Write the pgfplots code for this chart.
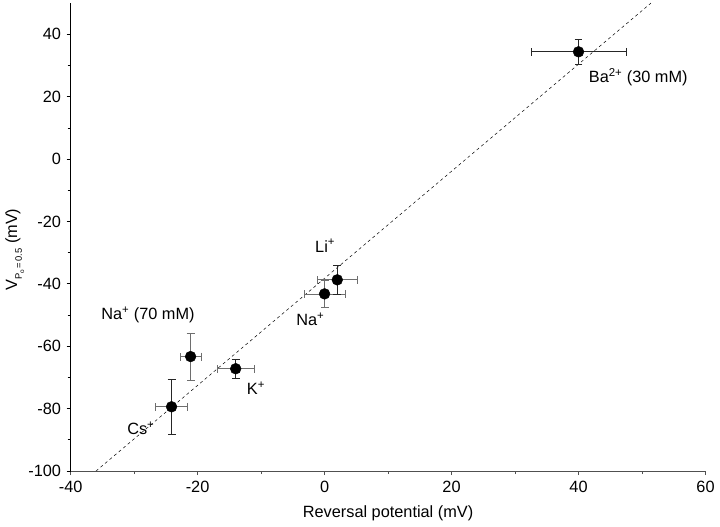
\documentclass[border=0pt]{standalone}
\usepackage{pgfplots}
\pgfplotsset{compat=1.18}
\usepackage{fontspec}
\setmainfont{Liberation Sans}
\definecolor{ebgray}{RGB}{110,110,110}
\definecolor{axgray}{RGB}{80,80,80}
\begin{document}
\fontsize{16.5}{19}\selectfont
\begin{tikzpicture}
\begin{axis}[
  name=main,
  scale only axis,
  width=642.5pt, height=473.5pt,
  xmin=-40, xmax=60, ymin=-100, ymax=50,
  axis x line*=bottom, axis y line*=left,
  x axis line style={-, line width=1pt, axgray},
  y axis line style={-, line width=1.2pt, black},
  xtick={-40,-20,0,20,40,60},
  ytick={-100,-80,-60,-40,-20,0,20,40},
  minor tick num=1,
  tick align=outside,
  major tick length=4pt, minor tick length=3pt,
  xtick style={axgray, line width=0.8pt},
  ytick style={black, line width=0.8pt},
  /pgf/number format/assume math mode=true,
  ticklabel style={font=\fontsize{16.5}{19}\selectfont},
  label style={font=\fontsize{16.5}{19}\selectfont},
  xlabel={Reversal potential (mV)},
  ylabel={V\raisebox{-0.55ex}{\fontsize{9.5}{10}\selectfont P\raisebox{-0.45ex}{\fontsize{6.5}{7}\selectfont o}\,=\,0.5} (mV)},
  xlabel style={at={(axis description cs:0.5,0)}, anchor=base, yshift=-47pt},
  ylabel style={at={(axis description cs:0,0.473)}, anchor=base, yshift=54pt},
  clip=false,
]
% regression line
\addplot[black, dashed, line width=0.5pt] coordinates {(-36,-100) (51.4,50)};
% horizontal error bars (gray)
\addplot[only marks, mark=none, draw=none,
  error bars/.cd, x dir=both, x explicit,
  error bar style={ebgray, line width=0.7pt}, error mark options={rotate=90, mark size=4pt, ebgray, line width=0.7pt}]
  coordinates {
  (0,-43.2) +- (3.2,0)
  (-21.1,-63.3) +- (1.65,0)
  (-14,-67.2) +- (2.9,0)
  (-24.1,-79.4) +- (2.5,0)
  (2.0,-38.7) +- (3.2,0)
};
% vertical error bars (gray)
\addplot[only marks, mark=none, draw=none,
  error bars/.cd, y dir=both, y explicit,
  error bar style={ebgray, line width=0.7pt}, error mark options={rotate=90, mark size=4pt, ebgray, line width=0.7pt}]
  coordinates {
  (0,-43.2) +- (0,4.35)
  (-21.1,-63.3) +- (0,7.5)
};
% black error bars
\addplot[only marks, mark=none, draw=none,
  error bars/.cd, x dir=both, x explicit,
  error bar style={black!85, line width=0.7pt}, error mark options={rotate=90, mark size=4pt, black!85, line width=0.7pt}]
  coordinates {
  (40,34.4) +- (7.5,0)
};
\addplot[only marks, mark=none, draw=none,
  error bars/.cd, y dir=both, y explicit,
  error bar style={black!85, line width=0.7pt}, error mark options={rotate=90, mark size=4pt, black!85, line width=0.7pt}]
  coordinates {
  (40,34.4) +- (0,4)
  (2.0,-38.7) +- (0,4.75)
  (-14,-67.2) +- (0,3.05)
  (-24.1,-79.4) +- (0,8.75)
};
% points
\addplot[only marks, mark=*, mark size=5.5pt, black] coordinates {
  (40,34.4) (2.0,-38.7) (0,-43.2) (-21.1,-63.3) (-14,-67.2) (-24.1,-79.4)
};
\node[anchor=base west, inner sep=0pt] at (axis cs:41.6,24.6) {Ba\textsuperscript{2+} (30 mM)};
\node[anchor=base west, inner sep=0pt] at (axis cs:-1.5,-29.8) {Li\textsuperscript{+}};
\node[anchor=base west, inner sep=0pt] at (axis cs:-4.47,-53.3) {Na\textsuperscript{+}};
\node[anchor=base east, inner sep=0pt] at (axis cs:-20.45,-51.4) {Na\textsuperscript{+} (70 mM)};
\node[anchor=base west, inner sep=0pt] at (axis cs:-12.25,-75.5) {K\textsuperscript{+}};
\node[anchor=base west, inner sep=0pt] at (axis cs:-31.1,-88.4) {Cs\textsuperscript{+}};
\end{axis}
\path (main.south west) ++(-67.7pt,-52.3pt) coordinate (bl);
\path (main.north east) ++(9.8pt,3.2pt) coordinate (tr);
\end{tikzpicture}
\end{document}
